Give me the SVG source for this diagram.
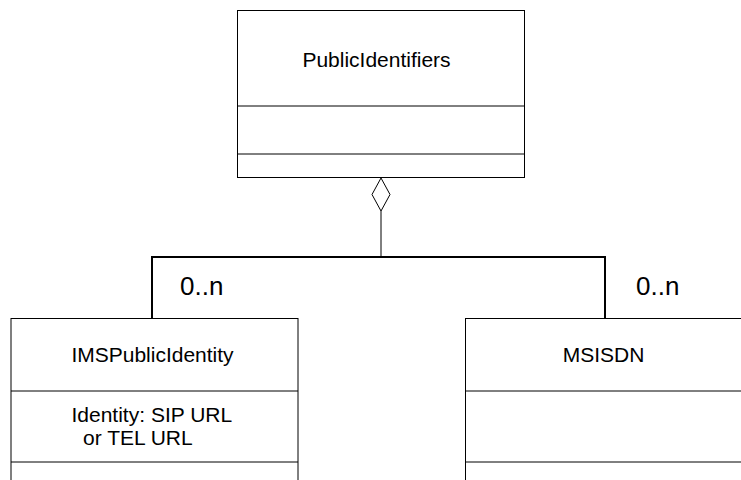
<svg xmlns="http://www.w3.org/2000/svg" width="741" height="480" viewBox="0 0 741 480">
<style>
.box{fill:#fff;stroke:#000;stroke-width:1}
.div{stroke:#000;stroke-width:1}
.t{font-family:"Liberation Sans",Arial,sans-serif;font-size:21px;fill:#000}
.m{font-family:"Liberation Sans",Arial,sans-serif;font-size:26px;fill:#000}
.c{fill:none;stroke:#000}
</style>
<rect width="741" height="480" fill="#fff"/>
<g id="connectors">
<line class="c" x1="381" y1="211" x2="381" y2="257" stroke-width="1"/>
<polyline class="c" points="152,318 152,257 605,257 605,318" stroke-width="2"/>
<polygon points="381,178 390,194.5 381,211 372,194.5" fill="#fff" stroke="#000" stroke-width="1"/>
<text class="m" x="180" y="295">0..n</text>
<text class="m" x="636" y="295">0..n</text>
</g>
<g id="PublicIdentifiers">
<rect class="box" x="237.5" y="10.5" width="287" height="167"/>
<line class="div" x1="237.5" y1="106" x2="524.5" y2="106"/>
<line class="div" x1="237.5" y1="154" x2="524.5" y2="154"/>
<text class="t" x="376.5" y="66.5" text-anchor="middle">PublicIdentifiers</text>
</g>
<g id="IMSPublicIdentity">
<rect class="box" x="11" y="318.5" width="287" height="180"/>
<line class="div" x1="11" y1="391" x2="298" y2="391"/>
<line class="div" x1="11" y1="462" x2="298" y2="462"/>
<text class="t" x="152.5" y="361.5" text-anchor="middle">IMSPublicIdentity</text>
<text class="t" x="71.5" y="421.5">Identity: SIP URL</text>
<text class="t" x="83" y="445">or TEL URL</text>
</g>
<g id="MSISDN">
<rect class="box" x="465.5" y="318.5" width="300" height="180"/>
<line class="div" x1="465.5" y1="391" x2="741" y2="391"/>
<line class="div" x1="465.5" y1="462" x2="741" y2="462"/>
<text class="t" x="603.5" y="361.5" text-anchor="middle">MSISDN</text>
</g>
</svg>
